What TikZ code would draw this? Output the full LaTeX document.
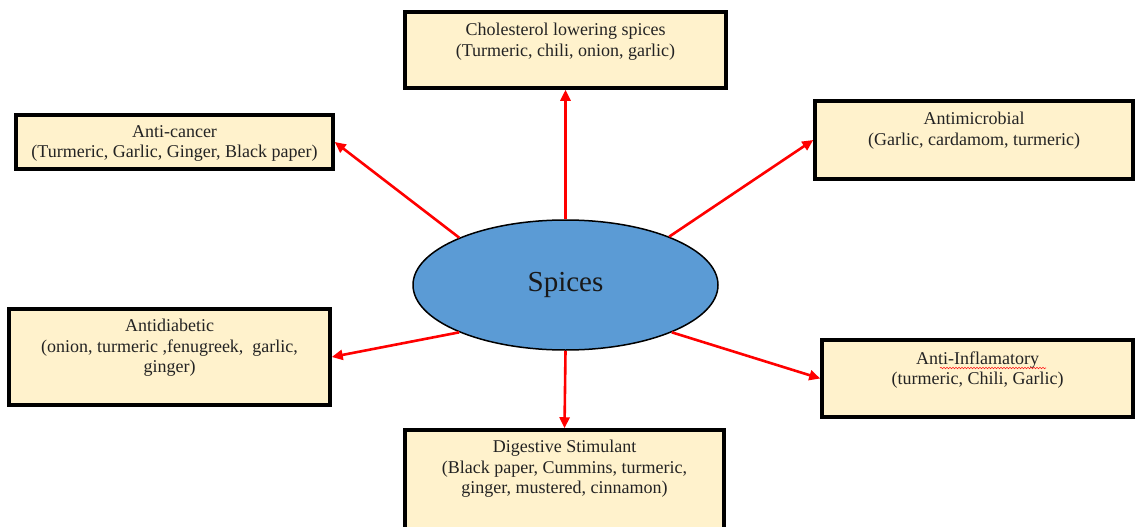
\documentclass[tikz,border=0pt]{standalone}
\usepackage{fontspec}
\setmainfont{Liberation Serif}
\usetikzlibrary{arrows.meta,shapes.geometric,decorations.pathmorphing}
\definecolor{boxfill}{RGB}{255,242,204}
\definecolor{ellfill}{RGB}{91,155,213}
\definecolor{txtcol}{RGB}{35,35,35}
\tikzset{
  box/.style={draw=black, line width=3.5pt, fill=boxfill, inner sep=0pt, rectangle},
  txt/.style={anchor=north, align=center, inner sep=0pt, text=txtcol, font=\fontsize{18}{20.5}\selectfont},
  arr/.style={draw=red, line width=2.6pt, -{Triangle[length=11pt,width=10pt]}},
  center/.style={ellipse, draw=black, line width=1.5pt, fill=ellfill, inner sep=0pt,
    minimum width=305pt, minimum height=130pt, font=\fontsize{29}{34}\selectfont, text=black!90}
}
\begin{document}
\begin{tikzpicture}[x=1pt,y=-1pt]
\useasboundingbox (0,0) rectangle (1135,527);
\clip (0,0) rectangle (1135,527);
\node[box, minimum width=321pt, minimum height=76pt] (chol) at (565.5,50) {};
\node[box, minimum width=317pt, minimum height=54pt] (cancer) at (174.5,142) {};
\node[box, minimum width=318pt, minimum height=78pt] (micro) at (974,140) {};
\node[box, minimum width=321pt, minimum height=96pt] (diab) at (169.5,357) {};
\node[box, minimum width=311pt, minimum height=77pt] (inflam) at (977.5,378.5) {};
\node[box, minimum width=319pt, minimum height=110pt] (dig) at (564.5,485) {};

\node[txt] (cholT) at ([yshift=-13pt]chol.north) {Cholesterol lowering spices\\(Turmeric, chili, onion, garlic)};
\node[txt] (cancerT) at ([yshift=-12pt]cancer.north) {Anti-cancer\\(Turmeric, Garlic, Ginger, Black paper)};
\node[txt] (microT) at ([yshift=-13pt]micro.north) {Antimicrobial\\(Garlic, cardamom, turmeric)};
\node[txt] (diabT) at ([yshift=-12pt]diab.north) {Antidiabetic\\(onion, turmeric ,fenugreek,\ \ garlic,\\ginger)};
\node[txt] (inflamT) at ([yshift=-13pt]inflam.north) {Anti-Inflamatory\\(turmeric, Chili, Garlic)};
\node[txt] (digT) at ([yshift=-12pt]dig.north) {Digestive Stimulant\\(Black paper, Cummins, turmeric,\\ginger, mustered, cinnamon)};

\draw[red!90!white, line width=0.6pt, decorate, decoration={snake, amplitude=0.7pt, segment length=3pt}] (940,368) -- (1046,368);

\node[center] (sp) at (565.5,285) {Spices};

\draw[arr] (sp.north) -- (chol.south);
\draw[arr] (sp.156) -- (cancer.east);
\draw[arr] (sp.25) -- (micro.west);
\draw[arr] (sp.204) -- (diab.east);
\draw[arr] (sp.-24) -- (inflam.west);
\draw[arr] (sp.south) -- (dig.north);
\end{tikzpicture}
\end{document}
